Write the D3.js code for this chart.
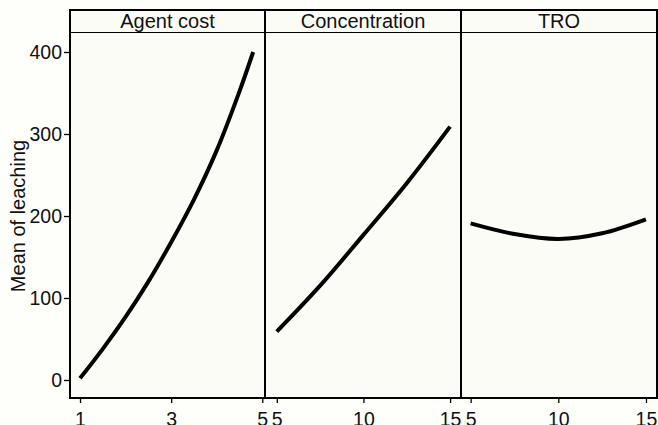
<!DOCTYPE html>
<html lang="en">
    <head>
        <meta charset="utf-8">
        <title>Mean of leaching</title>
        <script type="text/javascript" src="https://cdn.jsdelivr.net/npm/d3@7"></script>
        <style type="text/css">
            body { margin: 0; background: #fefefa; }
            svg { display: block; }
        </style>
    </head>
    <body>
        <script type="text/javascript">

        //Width and height
          var w = 658;
          var h = 425;

          //Data
          var panelNames = ["Agent cost", "Concentration", "TRO"];
          var agentX = [1, 1.5, 2, 2.5, 3, 3.5, 4, 4.5, 4.8];
          var agentY = [2, 38, 77, 120, 168, 220, 280, 352, 400];
          var concX = [5, 7.5, 10, 12.5, 15];
          var concY = [59, 115, 177, 240, 309];
          var troX = [5, 7.5, 10, 12.5, 15];
          var troY = [191, 178, 172, 179, 196];
          var yTicks = [0, 100, 200, 300, 400];
          var xTicks = [[1, 3, 5], [5, 10, 15], [5, 10, 15]];

          //Panel layout
          var plotTop = 10, stripH = 22, plotBottom = 398;
          var panelLeft = [70, 265, 461, 657];
          var xDomains = [[0.78, 5.06], [4.32, 15.63], [4.45, 15.63]];

          var series = [
            agentX.map(function(x, i) { return {x: x, y: agentY[i]}; }),
            concX.map(function(x, i) { return {x: x, y: concY[i]}; }),
            troX.map(function(x, i) { return {x: x, y: troY[i]}; })
          ];

          var font = "'Liberation Sans', Arial, Helvetica, sans-serif";
          var tickSize = "19.5px";
          var labelSize = "20px";

          var yScale = d3.scaleLinear()
                         .domain([0, 400])
                         .range([380, 52]);

          var svg = d3.select("body")
                      .append("svg")
                      .attr("width", w)
                      .attr("height", h);

          //Panel background
          svg.append("rect")
             .attr("x", panelLeft[0])
             .attr("y", plotTop)
             .attr("width", panelLeft[3] - panelLeft[0])
             .attr("height", plotBottom - plotTop)
             .attr("fill", "#fbfcf6");

          //Y axis
          var yAxis = d3.axisLeft(yScale)
                        .tickValues(yTicks)
                        .tickSize(6)
                        .tickPadding(2);

          var gy = svg.append("g")
                      .attr("transform", "translate(" + panelLeft[0] + ",0)")
                      .call(yAxis);
          gy.select(".domain").remove();
          gy.selectAll("line").attr("stroke", "#000").attr("stroke-width", 1.3);
          gy.selectAll("text")
            .attr("font-family", font)
            .attr("font-size", tickSize)
            .attr("fill", "#111");

          svg.append("text")
             .attr("transform", "translate(25,216) rotate(-90)")
             .attr("text-anchor", "middle")
             .attr("font-family", font)
             .attr("font-size", labelSize)
             .attr("fill", "#111")
             .text("Mean of leaching");

          var line = d3.line()
                       .curve(d3.curveCatmullRom)
                       .x(function(d) { return d.xs; })
                       .y(function(d) { return yScale(d.y); });

          panelNames.forEach(function(name, i) {
              var x0 = panelLeft[i], x1 = panelLeft[i + 1];

              var xScale = d3.scaleLinear()
                             .domain(xDomains[i])
                             .range([x0, x1]);

              //x axis
              var xAxis = d3.axisBottom(xScale)
                            .tickValues(xTicks[i])
                            .tickFormat(d3.format("d"))
                            .tickSize(5)
                            .tickPadding(9);
              var gx = svg.append("g")
                          .attr("transform", "translate(0," + plotBottom + ")")
                          .call(xAxis);
              gx.select(".domain").remove();
              gx.selectAll("line").attr("stroke", "#000").attr("stroke-width", 1.3);
              gx.selectAll("text")
                .attr("font-family", font)
                .attr("font-size", tickSize)
                .attr("fill", "#111");

              //strip label
              svg.append("text")
                 .attr("x", (x0 + x1) / 2)
                 .attr("y", plotTop + 18)
                 .attr("text-anchor", "middle")
                 .attr("font-family", font)
                 .attr("font-size", labelSize)
                 .attr("fill", "#111")
                 .text(name);

              //the fitted curve
              svg.append("path")
                 .datum(series[i].map(function(d) { return {xs: xScale(d.x), y: d.y}; }))
                 .attr("d", line)
                 .attr("fill", "none")
                 .attr("stroke", "#000")
                 .attr("stroke-width", 4)
                 .attr("stroke-linecap", "butt");
          });

          //Borders
          svg.append("rect")
             .attr("x", panelLeft[0])
             .attr("y", plotTop)
             .attr("width", panelLeft[3] - panelLeft[0])
             .attr("height", plotBottom - plotTop)
             .attr("fill", "none")
             .attr("stroke", "#000")
             .attr("stroke-width", 2);

          svg.append("line")
             .attr("x1", panelLeft[0]).attr("x2", panelLeft[3])
             .attr("y1", plotTop + stripH + 0.5).attr("y2", plotTop + stripH + 0.5)
             .attr("stroke", "#000")
             .attr("stroke-width", 1);

          svg.selectAll("line.sep")
             .data([panelLeft[1], panelLeft[2]])
             .enter()
             .append("line")
             .attr("class", "sep")
             .attr("x1", function(d) { return d; })
             .attr("x2", function(d) { return d; })
             .attr("y1", plotTop)
             .attr("y2", plotBottom)
             .attr("stroke", "#000")
             .attr("stroke-width", 2);

        </script>
    </body>
</html>
